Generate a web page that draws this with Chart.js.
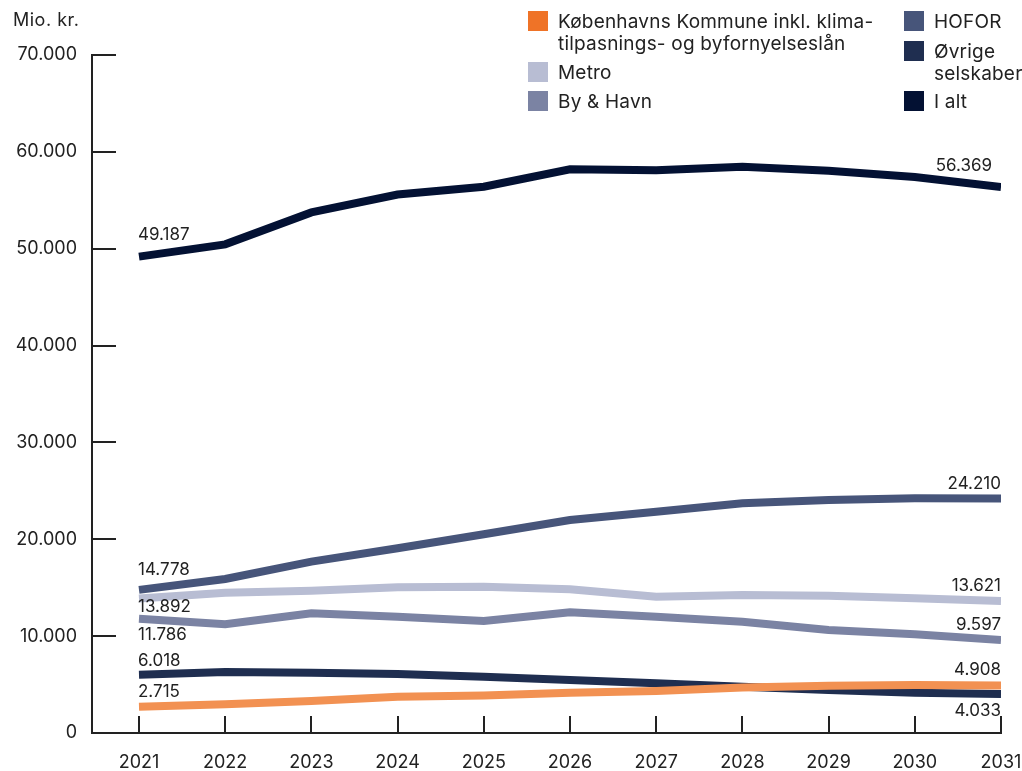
<!DOCTYPE html>
<html>
<head>
<meta charset="utf-8">
<script src="https://cdn.jsdelivr.net/npm/chart.js@4.4.1/dist/chart.umd.min.js"></script>
<style>
  html, body { margin: 0; padding: 0; background: #fff; }
  #wrap { position: relative; width: 1022px; height: 771px; overflow: hidden; }
  #chart { position: absolute; left: 0; top: 0; }
  .unit { position: absolute; left: 13px; top: 9px; font: 18px Inter, sans-serif; letter-spacing: 0.5px; color: #222; line-height: 22px; }
  .leg { position: absolute; display: flex; align-items: flex-start; font: 19px Inter, sans-serif; letter-spacing: 0.2px; color: #222; line-height: 21.5px; }
  .leg .sw { width: 20px; height: 20px; flex: 0 0 20px; margin-right: 10px; }
</style>
</head>
<body>
<div id="wrap">
  <canvas id="chart" width="1022" height="771"></canvas>
  <div class="unit">Mio. kr.</div>
  <div id="legend"></div>
</div>
<script>
// ---- data ----
const years = [2021, 2022, 2023, 2024, 2025, 2026, 2027, 2028, 2029, 2030, 2031];
const kommune = [2715, 2960, 3300, 3750, 3860, 4165, 4336, 4700, 4880, 4960, 4908];
const metro = [13892, 14490, 14690, 15040, 15110, 14830, 14075, 14250, 14180, 13905, 13621];
const byHavn = [11786, 11220, 12355, 12010, 11560, 12460, 12010, 11495, 10635, 10190, 9597];
const hofor = [14778, 15900, 17690, 19070, 20515, 21990, 22850, 23715, 24056, 24228, 24210];
const ovrige = [6018, 6300, 6230, 6090, 5815, 5470, 5130, 4785, 4440, 4165, 4033];
const iAlt = [49187, 50450, 53750, 55600, 56400, 58200, 58100, 58450, 58050, 57400, 56369];
const yTicks = [0, 10000, 20000, 30000, 40000, 50000, 60000, 70000];

const FONT = 'Inter';
const TEXT = '#222222';
const fmt = v => String(Math.round(v)).replace(/\B(?=(\d{3})+(?!\d))/g, '.');

function mk(label, values, color, legendColor, dy, dx) {
  return {
    label: label,
    data: values.map((v, i) => ({ x: years[i], y: v })),
    borderColor: color,
    backgroundColor: color,
    legendColor: legendColor || color,
    borderWidth: 8,
    borderCapStyle: 'butt',
    borderJoinStyle: 'miter',
    pointRadius: 0,
    pointHoverRadius: 0,
    tension: 0,
    fill: false,
    labelDy: dy,
    labelDx: dx || 0
  };
}

const datasets = [
  mk(['Københavns Kommune inkl. klima-', 'tilpasnings- og byfornyelseslån'], kommune, '#F29152', '#EF7327', [-15, -16]),
  mk(['Metro'], metro, '#B8BDD3', null, [8, -15]),
  mk(['By & Havn'], byHavn, '#7B83A3', null, [16, -15]),
  mk(['HOFOR'], hofor, '#47557A', null, [-20, -15]),
  mk(['Øvrige', 'selskaber'], ovrige, '#1F2E50', null, [-14, 17]),
  mk(['I alt'], iAlt, '#031133', null, [-22, -21], -9)
];

const tickMarks = {
  id: 'tickMarks',
  beforeDatasetsDraw(chart) {
    const { ctx, scales: { x, y } } = chart;
    ctx.save();
    ctx.strokeStyle = TEXT;
    ctx.lineWidth = 2;
    x.ticks.forEach(t => {
      const px = Math.round(x.getPixelForValue(t.value));
      ctx.beginPath(); ctx.moveTo(px, x.top); ctx.lineTo(px, x.top - 17); ctx.stroke();
    });
    y.ticks.forEach(t => {
      const py = Math.round(y.getPixelForValue(t.value));
      ctx.beginPath(); ctx.moveTo(y.right, py); ctx.lineTo(y.right + 24, py); ctx.stroke();
    });
    ctx.restore();
  }
};

const endLabels = {
  id: 'endLabels',
  afterDatasetsDraw(chart) {
    const ctx = chart.ctx;
    ctx.save();
    ctx.font = '17px ' + FONT;
    ctx.fillStyle = TEXT;
    ctx.textBaseline = 'middle';
    chart.data.datasets.forEach((ds, i) => {
      const pts = chart.getDatasetMeta(i).data;
      const a = pts[0], b = pts[pts.length - 1];
      ctx.textAlign = 'left';
      ctx.fillText(fmt(ds.data[0].y), a.x - 1, a.y + ds.labelDy[0]);
      ctx.textAlign = 'right';
      ctx.fillText(fmt(ds.data[ds.data.length - 1].y), b.x + ds.labelDx, b.y + ds.labelDy[1]);
    });
    ctx.restore();
  }
};

const chart = new Chart(document.getElementById('chart'), {
  type: 'line',
  data: { datasets: datasets },
  options: {
    responsive: false,
    animation: false,
    events: [],
    layout: { padding: { top: 55, right: 21, left: 0, bottom: 0 } },
    plugins: { legend: { display: false }, tooltip: { enabled: false }, title: { display: false } },
    scales: {
      x: {
        type: 'linear',
        min: 2020.455,
        max: 2031,
        afterBuildTicks: s => { s.ticks = years.map(v => ({ value: v })); },
        afterFit: s => { s.height = 38; s.paddingLeft = 0; s.paddingRight = 0; },
        grid: { display: false, drawTicks: false },
        border: { display: true, color: TEXT, width: 2 },
        ticks: { autoSkip: false, maxRotation: 0, padding: 19, color: TEXT, font: { family: FONT, size: 18 }, callback: v => String(v) }
      },
      y: {
        type: 'linear',
        min: 0,
        max: 70000,
        afterBuildTicks: s => { s.ticks = yTicks.map(v => ({ value: v })); },
        afterFit: s => { s.width = 92; s.paddingTop = 0; s.paddingBottom = 0; },
        grid: { display: false, drawTicks: false },
        border: { display: true, color: TEXT, width: 2 },
        ticks: { padding: 15, color: TEXT, font: { family: FONT, size: 18 }, callback: v => fmt(v) }
      }
    }
  },
  plugins: [tickMarks, endLabels]
});

// HTML legend built from the datasets
const legendPos = [[528, 11], [528, 62], [528, 91], [904, 11], [904, 41], [904, 91]];
const legendEl = document.getElementById('legend');
datasets.forEach((ds, i) => {
  const item = document.createElement('div');
  item.className = 'leg';
  item.style.left = legendPos[i][0] + 'px';
  item.style.top = legendPos[i][1] + 'px';
  const sw = document.createElement('span');
  sw.className = 'sw';
  sw.style.background = ds.legendColor;
  const tx = document.createElement('span');
  tx.innerHTML = ds.label.map(s => s.replace(/&/g, '&amp;')).join('<br>');
  item.appendChild(sw);
  item.appendChild(tx);
  legendEl.appendChild(item);
});
</script>
</body>
</html>
